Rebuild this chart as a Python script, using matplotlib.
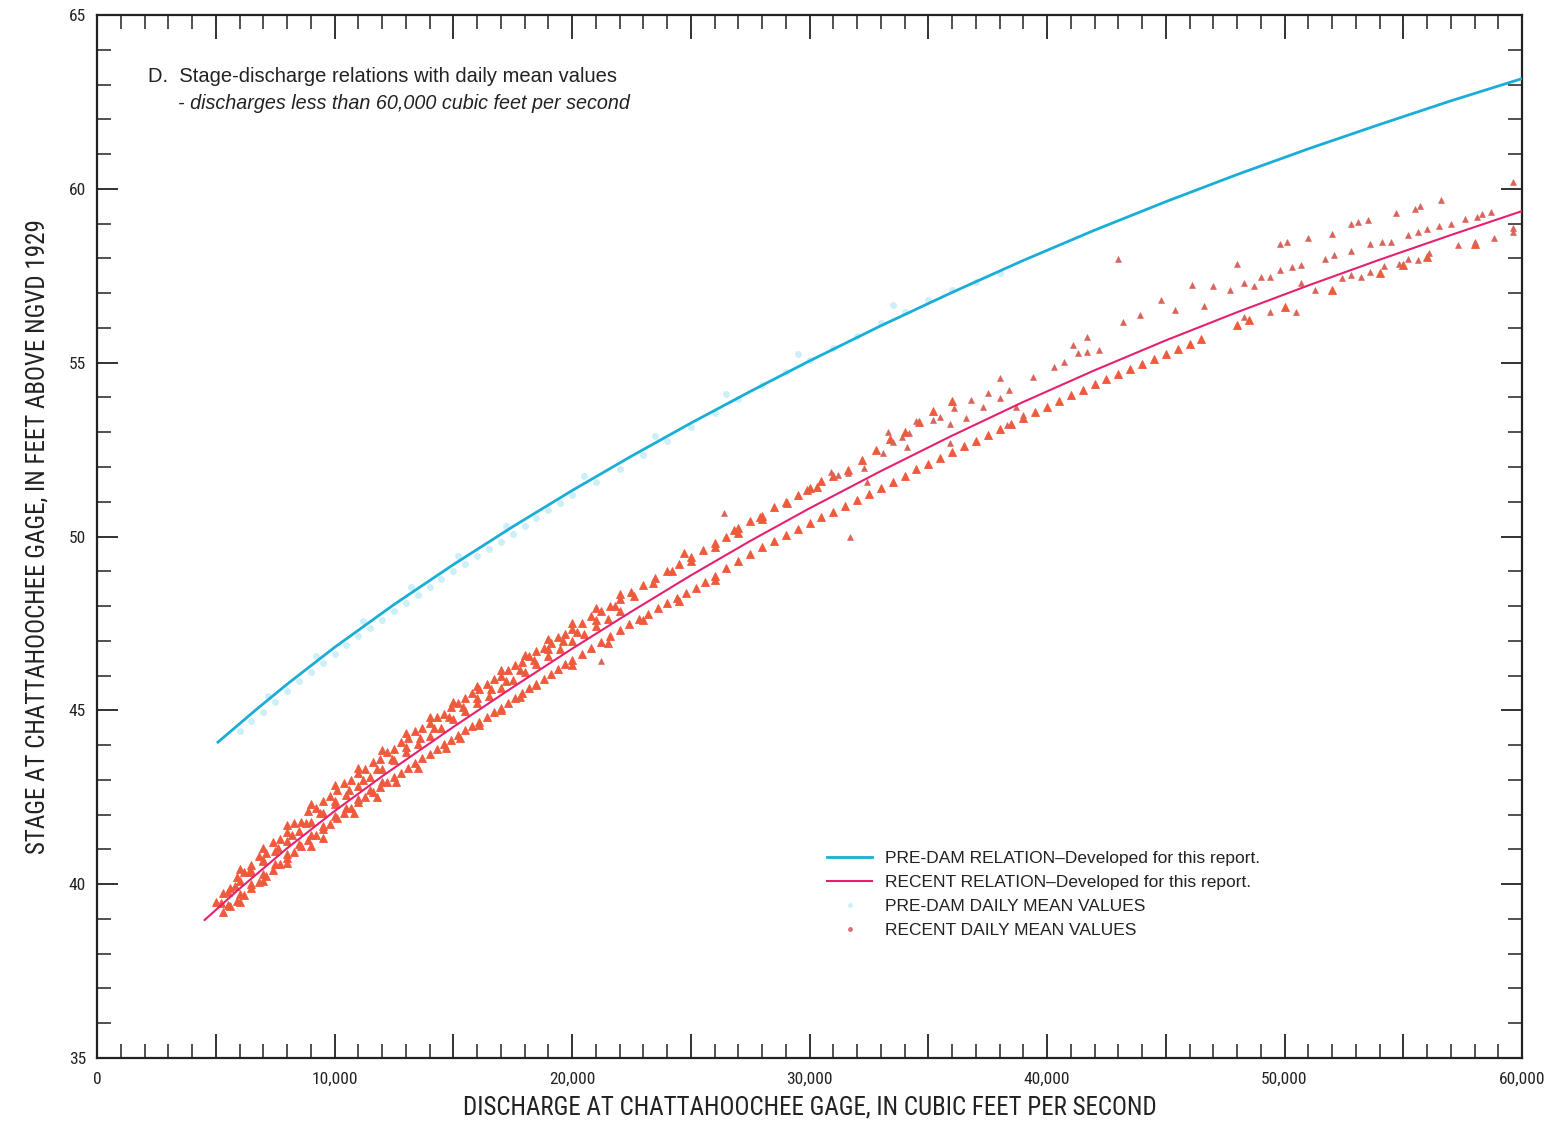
import matplotlib
matplotlib.use('Agg')
import matplotlib.pyplot as plt
from matplotlib import font_manager
from matplotlib.ticker import MultipleLocator, FuncFormatter
from matplotlib.lines import Line2D

available = {f.name for f in font_manager.fontManager.ttflist}
def pick(cands):
    for n in cands:
        if n in available:
            return n
    return 'DejaVu Sans'
NARROW = pick(['Liberation Sans Narrow', 'Roboto Condensed', 'Open Sans Condensed', 'DejaVu Sans'])
REG = pick(['Liberation Sans', 'Roboto', 'DejaVu Sans'])

# ---------------- data ----------------
# Pre-dam stage-discharge relation
pre_rel_q = [5050, 6700, 8000, 10000, 12500, 15000, 17500, 20000, 22500, 25000, 27500,
             30000, 33000, 36000, 39000, 42000, 45000, 48000, 51000, 54000, 57000, 60000]
pre_rel_s = [44.06, 45.02, 45.75, 46.81, 48.04, 49.19, 50.28, 51.32, 52.31, 53.26, 54.17,
             55.05, 56.06, 57.02, 57.94, 58.81, 59.63, 60.41, 61.15, 61.85, 62.53, 63.17]

# Recent stage-discharge relation
rec_rel_q = [4500, 6000, 8000, 10000, 12000, 15000, 17500, 20000, 22500, 25000, 27500,
             30000, 33000, 36000, 39000, 42000, 45000, 48000, 51000, 54000, 57000, 60000]
rec_rel_s = [38.95, 39.87, 41.03, 42.1, 43.1, 44.52, 45.66, 46.77, 47.84, 48.88, 49.87,
             50.81, 51.88, 52.9, 53.87, 54.78, 55.64, 56.45, 57.22, 57.96, 58.67, 59.36]

# Pre-dam daily mean values (faint)
pre_pts_q = [6000, 6500, 7000, 7500, 8000, 8500, 9000, 9500, 10000, 10500, 11000, 11500,
             12000, 12500, 13000, 13500, 14000, 14500, 15000, 15500, 16000, 16500, 17000,
             17500, 18000, 18500, 19000, 19500, 20000, 21000, 22000, 23000, 24000, 25000,
             26000, 27000, 28000, 29000, 30000, 31000, 32000, 33000, 34000, 35000, 36000,
             37000, 38000,
             7200, 9200, 11200, 13200, 15200, 17200, 20500, 23500, 26500, 29500, 33500]
pre_pts_s = [44.4, 44.7, 44.96, 45.24, 45.55, 45.83, 46.1, 46.36, 46.62, 46.88, 47.13, 47.37,
             47.6, 47.85, 48.1, 48.33, 48.56, 48.78, 49.0, 49.22, 49.44, 49.65, 49.85,
             50.07, 50.3, 50.52, 50.75, 50.97, 51.18, 51.58, 51.95, 52.35, 52.75, 53.15,
             53.55, 53.95, 54.35, 54.73, 55.07, 55.42, 55.77, 56.15, 56.47, 56.8, 57.1,
             57.33, 57.58,
             45.4, 46.55, 47.57, 48.55, 49.44, 50.29, 51.73, 52.9, 54.1, 55.25, 56.66]

# Recent daily mean values - dense upper band
up1_q = [5000, 5300, 5600, 5900, 6200, 6500, 6800, 7100, 7400, 7700, 8000, 8300, 8600, 8900,
         9200, 9500, 9800, 10100, 10400, 10700, 11000, 11300, 11600, 11900, 12200, 12500,
         12800, 13100, 13400, 13700, 14000, 14300, 14600, 14900, 15200, 15500, 15800, 16100,
         16400, 16700, 17000, 17300, 17600, 17900, 18200, 18500, 18800, 19100, 19400, 19700,
         20000, 20400, 20800, 21200, 21600, 22000, 22500, 23000, 23500, 24000, 24500, 25000,
         25500, 26000, 26500, 27000, 27500, 28000, 28500, 29000, 29500, 30000, 30500, 31000,
         31600, 32200, 32800, 33400, 34000, 34600, 35200, 36000]
up1_s = [39.5, 39.75, 39.9, 40.2, 40.35, 40.55, 40.8, 40.9, 41.2, 41.3, 41.5, 41.75, 41.8, 42.1,
         42.2, 42.4, 42.55, 42.7, 42.9, 43.0, 43.2, 43.3, 43.5, 43.6, 43.8, 43.9,
         44.1, 44.2, 44.4, 44.5, 44.65, 44.8, 44.9, 45.1, 45.2, 45.35, 45.5, 45.6,
         45.75, 45.9, 46.0, 46.15, 46.3, 46.4, 46.55, 46.7, 46.8, 46.95, 47.1, 47.2,
         47.35, 47.5, 47.7, 47.85, 48.0, 48.2, 48.4, 48.6, 48.8, 49.0, 49.2, 49.4,
         49.6, 49.8, 50.0, 50.25, 50.45, 50.6, 50.85, 51.0, 51.2, 51.4, 51.6, 51.75,
         51.9, 52.2, 52.5, 52.8, 53.0, 53.3, 53.6, 53.9]
up2_q = [5200, 5800, 6400, 7000, 7600, 8200, 8800, 9400, 10000, 10600, 11200, 11800, 12400,
         13000, 13600, 14200, 14800, 15400, 16000, 16600, 17200, 17800, 18400, 19000, 19600,
         20200, 21000, 21800, 22600, 23400, 24200, 25000, 26000, 27000, 28000]
up2_s = [39.45, 39.95, 40.35, 40.7, 41.05, 41.4, 41.75, 42.05, 42.4, 42.7, 43.0, 43.3, 43.6,
         43.95, 44.2, 44.5, 44.8, 45.1, 45.35, 45.6, 45.85, 46.15, 46.45, 46.75, 47.0,
         47.25, 47.6, 48.0, 48.3, 48.65, 49.0, 49.3, 49.7, 50.1, 50.5]
up3_q = [6000, 7000, 8000, 9000, 10000, 11000, 12000, 13000, 14000, 15000, 16000, 17000,
         18000, 19000, 20000, 21000, 22000, 24700, 26800, 27900, 29050, 29900, 30300]
up3_s = [40.45, 41.05, 41.7, 42.3, 42.85, 43.35, 43.85, 44.35, 44.8, 45.25, 45.7, 46.15,
         46.6, 47.05, 47.5, 47.95, 48.35, 49.53, 50.19, 50.56, 50.96, 51.34, 51.43]
up4_q = [5500, 6000, 6500, 7000, 7500, 8000, 8500, 9000, 9500, 10000, 10500, 11000, 11500,
         12000, 12500, 13000, 13500, 14000, 14500, 15000, 15500, 16000, 16500, 17000, 17500,
         18000, 18500, 19000, 19500, 20000, 20500, 21000, 21500, 22000]
up4_s = [39.78, 40.09, 40.38, 40.67, 40.96, 41.25, 41.52, 41.78, 42.05, 42.32, 42.57, 42.82,
         43.07, 43.32, 43.56, 43.79, 44.03, 44.27, 44.5, 44.74, 44.97, 45.2, 45.42, 45.65,
         45.88, 46.1, 46.32, 46.55, 46.77, 46.99, 47.2, 47.42, 47.63, 47.85]

# Recent daily mean values - dense lower band
lo1_q = [5300, 5600, 5900, 6200, 6500, 6800, 7100, 7400, 7700, 8000, 8300, 8600, 8900, 9200,
         9500, 9800, 10100, 10400, 10700, 11000, 11300, 11600, 11900, 12200, 12500, 12800,
         13100, 13400, 13700, 14000, 14300, 14600, 14900, 15200, 15500, 15800, 16100, 16400,
         16700, 17000, 17300, 17600, 17900, 18200, 18500, 18800, 19100, 19400, 19700, 20000,
         20400, 20800, 21200, 21600, 22000, 22400, 22800, 23200, 23600, 24000, 24400, 24800,
         25200, 25600, 26000, 26500, 27000, 27500, 28000, 28500, 29000, 29500, 30000, 30500,
         31000, 31500, 32000, 32500, 33000, 33500, 34000, 34500, 35000, 35500, 36000, 36500,
         37000, 37500, 38000, 38500, 39000, 39500, 40000, 40500, 41000, 41500, 42000, 42500,
         43000, 43500, 44000, 44500, 45000, 45500, 46000, 46500, 48000, 48500, 50000,
         52000, 54000, 55000, 56000, 58000]
lo1_s = [39.19, 39.36, 39.52, 39.7, 39.88, 40.06, 40.24, 40.42, 40.59, 40.76, 40.93, 41.09,
         41.26, 41.41, 41.58, 41.74, 41.9, 42.05, 42.2, 42.35, 42.51, 42.65, 42.79, 42.93,
         43.07, 43.21, 43.35, 43.49, 43.62, 43.75, 43.89, 44.03, 44.16, 44.29, 44.42, 44.55,
         44.67, 44.81, 44.94, 45.07, 45.22, 45.36, 45.5, 45.63, 45.75, 45.9, 46.05, 46.18,
         46.32, 46.45, 46.62, 46.79, 46.97, 47.13, 47.31, 47.47, 47.62, 47.78, 47.94, 48.09,
         48.24, 48.38, 48.53, 48.7, 48.87, 49.08, 49.29, 49.5, 49.7, 49.88, 50.05, 50.23,
         50.4, 50.55, 50.7, 50.88, 51.05, 51.23, 51.4, 51.58, 51.75, 51.93, 52.09, 52.25,
         52.42, 52.59, 52.75, 52.92, 53.08, 53.24, 53.41, 53.57, 53.73, 53.89, 54.06, 54.22,
         54.38, 54.53, 54.67, 54.81, 54.96, 55.1, 55.24, 55.39, 55.53, 55.67, 56.09, 56.23,
         56.6, 57.1, 57.58, 57.82, 58.03, 58.42]
lo2_q = [6000, 7000, 8000, 9000, 9500, 10800, 11800, 12600, 13500, 14700, 15300, 16100,
         17000, 17800, 18500, 20000, 21500, 23000, 24500, 26000]
lo2_s = [39.5, 40.1, 40.6, 41.1, 41.33, 42.05, 42.51, 42.94, 43.35, 43.92, 44.21, 44.58,
         45.01, 45.39, 45.73, 46.3, 46.95, 47.6, 48.15, 48.75]
lo3_q = [5500, 6000, 6500, 7000, 7500, 8000, 8500, 9000, 9500, 10000, 10500, 11000, 11500,
         12000]
lo3_s = [39.41, 39.72, 40.01, 40.3, 40.59, 40.88, 41.15, 41.41, 41.68, 41.95, 42.2, 42.45,
         42.7, 42.95]

# Recent daily mean values - scattered points at higher discharges
sp_q = [30900, 31200, 31600, 32300, 32400, 33300, 33100, 33500, 33900, 34200, 34100, 34500,
        35200, 35500, 35900, 36100, 36600, 36800, 37300, 37500, 38000, 38000, 38400, 39400,
        40300, 40700, 41100, 41300, 41700, 41700, 42200, 35900, 38700, 38300, 39000,
        43200, 43900, 44800, 45400, 46100, 46600, 47000, 47700, 48300, 48700, 49000, 49400,
        49800, 50300, 50700, 51700, 52100, 52800, 53600, 54100, 54500, 55200, 55600, 56000,
        56500, 57000, 57600, 58100, 58300, 58700,
        48000, 49800, 50100, 51000, 52000, 52800, 53100, 53500, 54700, 55500, 55700, 56600,
        59600, 59600,
        50700, 51300, 52400, 52800, 53200, 53600, 54200, 54800, 55200, 55600, 56100, 57300,
        58000, 58800, 59600, 48300, 49400, 50500,
        43000, 26400, 31700, 21200]
sp_s = [51.86, 51.78, 51.83, 51.97, 51.57, 53.0, 52.4, 52.72, 52.86, 52.97, 52.57, 53.32,
        53.35, 53.44, 53.24, 53.7, 53.41, 53.93, 53.73, 54.13, 54.56, 53.98, 54.21, 54.59,
        54.88, 55.02, 55.51, 55.28, 55.31, 55.74, 55.37, 52.69, 53.73, 53.21, 53.5,
        56.17, 56.37, 56.8, 56.52, 57.24, 56.63, 57.2, 57.1, 57.3, 57.2, 57.45, 57.45,
        57.67, 57.74, 57.8, 57.98, 58.1, 58.2, 58.4, 58.46, 58.46, 58.67, 58.76, 58.85,
        58.94, 59.0, 59.13, 59.2, 59.28, 59.33,
        57.84, 58.41, 58.46, 58.6, 58.7, 58.99, 59.04, 59.1, 59.3, 59.42, 59.5, 59.68,
        60.2, 58.87,
        57.3, 57.09, 57.44, 57.53, 57.47, 57.6, 57.78, 57.84, 57.98, 57.95, 58.15, 58.38,
        58.47, 58.6, 58.77, 56.31, 56.46, 56.46,
        57.97, 50.68, 50.0, 46.42]

x_label = "DISCHARGE AT CHATTAHOOCHEE GAGE, IN CUBIC FEET PER SECOND"
y_label = "STAGE AT CHATTAHOOCHEE GAGE, IN FEET ABOVE NGVD 1929"
title1 = "D.  Stage-discharge relations with daily mean values"
title2 = "- discharges less than 60,000 cubic feet per second"
legend_labels = ["PRE-DAM RELATION\u2013Developed for this report.",
                 "RECENT RELATION\u2013Developed for this report.",
                 "PRE-DAM DAILY MEAN VALUES",
                 "RECENT DAILY MEAN VALUES"]

# ---------------- colours ----------------
C_PRE = '#1aaed6'
C_REC = '#e5206f'
C_PTS = '#f05a3c'
C_SP = '#d9635a'
C_PRE_PTS = '#cdeff7'

fig = plt.figure(figsize=(15.53, 11.23), dpi=100)
ax = fig.add_axes([97 / 1553, 1 - 1058 / 1123, (1522 - 97) / 1553, (1058 - 15) / 1123])

ax.plot(pre_pts_q, pre_pts_s, linestyle='none', marker='o', markersize=5,
        color=C_PRE_PTS, markeredgewidth=0, zorder=1)
for qq, ss in [(up1_q, up1_s), (up2_q, up2_s), (up3_q, up3_s), (up4_q, up4_s),
               (lo1_q, lo1_s), (lo2_q, lo2_s), (lo3_q, lo3_s)]:
    ax.plot(qq, ss, linestyle='none', marker='^', markersize=6, color=C_PTS,
            markeredgewidth=0.6, markeredgecolor=C_PTS, zorder=2)
ax.plot(sp_q, sp_s, linestyle='none', marker='^', markersize=4.5, color=C_SP,
        markeredgewidth=0.4, markeredgecolor=C_SP, zorder=2)
ax.plot(pre_rel_q, pre_rel_s, color=C_PRE, lw=2.0, zorder=3, solid_capstyle='butt')
ax.plot(rec_rel_q, rec_rel_s, color=C_REC, lw=1.5, zorder=3, solid_capstyle='butt')

ax.set_xlim(0, 60000)
ax.set_ylim(35, 65)

ax.xaxis.set_major_locator(MultipleLocator(5000))
ax.xaxis.set_minor_locator(MultipleLocator(1000))
ax.yaxis.set_major_locator(MultipleLocator(5))
ax.yaxis.set_minor_locator(MultipleLocator(1))
ax.xaxis.set_major_formatter(FuncFormatter(
    lambda v, p: ('0' if v == 0 else f"{int(round(v)):,}") if round(v) % 10000 == 0 else ''))
ax.yaxis.set_major_formatter(FuncFormatter(lambda v, p: f"{int(round(v))}"))

ax.tick_params(which='both', direction='in', top=True, right=True, colors='#222222')
ax.tick_params(axis='x', which='major', length=17, width=1.3, pad=10)
ax.tick_params(axis='x', which='minor', length=10, width=1.1)
ax.tick_params(axis='y', which='major', length=15, width=1.3, pad=8)
ax.tick_params(axis='y', which='minor', length=10, width=1.1)
for lab in ax.get_xticklabels() + ax.get_yticklabels():
    lab.set_fontfamily(NARROW)
    lab.set_fontsize(12.5)
    lab.set_color('#222222')
for sp in ax.spines.values():
    sp.set_linewidth(1.6)
    sp.set_color('#222222')

ax.set_xlabel(x_label, fontfamily=NARROW, fontsize=18, color='#222222', labelpad=6)
ax.set_ylabel(y_label, fontfamily=NARROW, fontsize=18, color='#222222', labelpad=14)

ax.text(0.036, 0.941, title1, transform=ax.transAxes, fontfamily=REG, fontsize=14.5,
        color='#222222', va='center', ha='left')
ax.text(0.057, 0.915, title2, transform=ax.transAxes, fontfamily=REG, fontsize=14.2,
        style='italic', color='#222222', va='center', ha='left')

handles = [Line2D([], [], color=C_PRE, lw=2.0),
           Line2D([], [], color=C_REC, lw=1.5),
           Line2D([], [], linestyle='none', marker='o', markersize=3.5, color=C_PRE_PTS,
                  markeredgewidth=0),
           Line2D([], [], linestyle='none', marker='o', markersize=3.5, color='#d9707a',
                  markeredgewidth=0)]
leg = ax.legend(handles, legend_labels, loc='upper left', bbox_to_anchor=(0.5074, 0.205),
                frameon=False, handlelength=2.6, handletextpad=0.75, labelspacing=0.5,
                prop={'family': REG, 'size': 12.5}, borderaxespad=0)
for t in leg.get_texts():
    t.set_color('#222222')

fig.savefig('out.png', dpi=100)
